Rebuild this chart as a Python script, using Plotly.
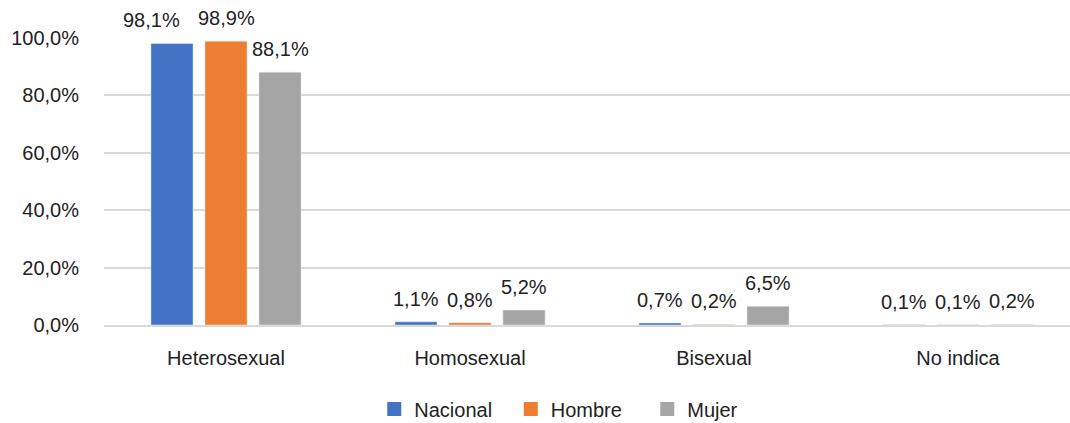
import plotly.graph_objects as go

categories = ["Heterosexual", "Homosexual", "Bisexual", "No indica"]
nacional = [0.981, 0.011, 0.007, 0.001]
hombre = [0.989, 0.008, 0.002, 0.001]
mujer = [0.881, 0.052, 0.065, 0.002]

series = [("Nacional", nacional, "#4472C4"),
          ("Hombre", hombre, "#ED7D31"),
          ("Mujer", mujer, "#A5A5A5")]

FONT = "Liberation Sans"
TXT = "#222222"
group_shift = [-54, 0, 54]          # label x offset (px) per series within a group
label_nudge = {(0, 0): -21}         # manual label nudge as in the original chart


def fmt(v):
    return f"{v * 100:.1f}%".replace(".", ",")


fig = go.Figure()
for name, vals, col in series:
    fig.add_trace(go.Bar(
        name=name, x=categories, y=vals, marker_color=col,
        showlegend=False, hoverinfo="skip",
    ))
# legend entries with larger square swatches
for name, vals, col in series:
    fig.add_trace(go.Scatter(
        name=name, x=[None], y=[None], mode="markers",
        marker=dict(symbol="square", size=14, color=col),
        showlegend=True,
    ))

annotations = []
for si, (name, vals, col) in enumerate(series):
    for ci, (cat, v) in enumerate(zip(categories, vals)):
        annotations.append(dict(
            x=cat, y=v, xref="x", yref="y", text=fmt(v), showarrow=False,
            xanchor="center", yanchor="bottom",
            xshift=group_shift[si] + label_nudge.get((ci, si), 0), yshift=10,
            font=dict(size=20, color=TXT, family=FONT),
        ))

fig.update_layout(
    width=1070, height=423,
    margin=dict(l=104, r=0, t=38, b=98, autoexpand=False),
    paper_bgcolor="white", plot_bgcolor="white",
    separators=",.",
    barmode="group", bargap=0.336, bargroupgap=0.22,
    font=dict(family=FONT, size=20, color=TXT),
    annotations=annotations,
    xaxis=dict(range=[-0.5, 3.459], showgrid=False, showline=True,
               linecolor="#D9D9D9", linewidth=1.5, ticks="",
               automargin=False,
               ticklabelstandoff=14, tickfont=dict(size=20, color=TXT)),
    yaxis=dict(range=[0, 1.0], tickvals=[0, 0.2, 0.4, 0.6, 0.8, 1.0],
               tickformat=".1%", showgrid=True, gridcolor="#D9D9D9",
               gridwidth=1.5, zeroline=False, showline=False,
               automargin=False,
               ticklabelstandoff=24, tickfont=dict(size=20, color=TXT)),
    legend=dict(orientation="h", x=0.492, xanchor="center", y=-0.293,
                yanchor="middle", font=dict(size=20, color=TXT),
                itemwidth=30, entrywidth=91.5, entrywidthmode="pixels",
                traceorder="normal", tracegroupgap=0),
)
fig.write_html("out.html", config={"displayModeBar": False},
               post_script="document.body.style.margin='0';")
